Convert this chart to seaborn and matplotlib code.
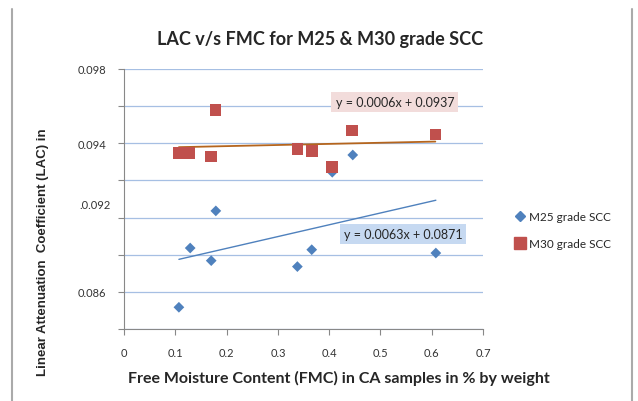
import numpy as np
import pandas as pd
import seaborn as sns
import matplotlib.pyplot as plt
from matplotlib.lines import Line2D

# Datos
fmc_m25 = [0.107, 0.129, 0.170, 0.179, 0.338, 0.366, 0.406, 0.446, 0.608]
lac_m25 = [0.08517, 0.08836, 0.08768, 0.09036, 0.08736, 0.08827, 0.09244, 0.09337, 0.08809]
fmc_m30 = [0.107, 0.127, 0.169, 0.178, 0.338, 0.366, 0.406, 0.445, 0.607]
lac_m30 = [0.09348, 0.09348, 0.09328, 0.09580, 0.09369, 0.09359, 0.09271, 0.09468, 0.09448]
series = ["M25 grade SCC", "M30 grade SCC"]
eq_labels = ["y = 0.0063x + 0.0871", "y = 0.0006x + 0.0937"]
x_ticks = [0, 0.1, 0.2, 0.3, 0.4, 0.5, 0.6, 0.7]
x_ticklabels = ["0", "0.1", "0.2", "0.3", "0.4", "0.5", "0.6", "0.7"]
y_ticks = [0.084, 0.086, 0.088, 0.090, 0.092, 0.094, 0.096, 0.098]
y_ticklabels = ["", "0.086", "", "", "", "0.094", "", "0.098"]

datos = pd.DataFrame({
    "FMC": fmc_m25 + fmc_m30,
    "LAC": lac_m25 + lac_m30,
    "Serie": [series[0]] * len(fmc_m25) + [series[1]] * len(fmc_m30),
})

sns.set_style("white")
plt.rcParams['font.family'] = ['Lato', 'DejaVu Sans']

azul = "#4F81BD"
rojo = "#C0504D"

fig = plt.figure(figsize=(6.38, 4.02), dpi=100)
ax = fig.add_axes([0.1944, 0.1791, 0.5627, 0.6468])

# lineas de tendencia
sns.regplot(x="FMC", y="LAC", data=datos[datos.Serie == series[0]], ci=None,
            scatter=False, truncate=True, line_kws={"color": azul, "lw": 1.0}, ax=ax)
sns.regplot(x="FMC", y="LAC", data=datos[datos.Serie == series[1]], ci=None,
            scatter=False, truncate=True, line_kws={"color": "#B5651D", "lw": 1.3}, ax=ax)

sns.scatterplot(x="FMC", y="LAC", data=datos, hue="Serie", style="Serie",
                palette=[azul, rojo], markers=["D", "s"], size="Serie",
                sizes=[30, 70], edgecolor="none", legend=False, ax=ax, zorder=3)

ax.set_xlim(0, 0.7)
ax.set_ylim(0.084, 0.098)
ax.set_xticks(x_ticks)
ax.set_xticklabels(x_ticklabels, fontsize=8, color="#333333")
ax.set_yticks(y_ticks)
ax.set_yticklabels(y_ticklabels, fontsize=8, color="#333333")
ax.text(-0.027, 0.0907, ".0.092", fontsize=8, color="#333333", ha="right", va="center")
ax.yaxis.grid(True, color="#A6BFE3", lw=0.9)
for s in ["top", "right"]:
    ax.spines[s].set_visible(False)
for s in ["left", "bottom"]:
    ax.spines[s].set_color("#888888")
ax.tick_params(axis="both", length=4, color="#888888", direction="out",
               left=True, bottom=True, pad=9)
ax.tick_params(axis="y", pad=9)

ax.set_xlabel("")
ax.set_ylabel("")
fig.text(339 / 638, 1 - 378 / 402,
         "Free Moisture Content (FMC) in CA samples in % by weight",
         fontsize=11.5, fontweight="bold", ha="center", va="center")
ax.text(-0.226, 0.30, "Linear Attenuation  Coefficient (LAC) in",
        transform=ax.transAxes, rotation=90, fontsize=9.5, fontweight="bold",
        family=["Liberation Sans", "DejaVu Sans"], ha="center", va="center")
fig.text(320 / 638, 1 - 40 / 402, "LAC v/s FMC for M25 & M30 grade SCC",
         fontsize=13, fontweight="bold", ha="center", va="center")

# ecuaciones
ax.text(0.528, 0.09622, eq_labels[1], fontsize=9, ha="center", va="center",
        bbox=dict(facecolor="#F2DCDB", edgecolor="none", pad=3))
ax.text(0.544, 0.08912, eq_labels[0], fontsize=9, ha="center", va="center",
        bbox=dict(facecolor="#C6D9F1", edgecolor="none", pad=3))

handles = [Line2D([], [], marker="D", color=azul, ls="none", markersize=5),
           Line2D([], [], marker="s", color=rojo, ls="none", markersize=8)]
fig.legend(handles, series, loc="center left", bbox_to_anchor=(0.785, 0.425),
           frameon=False, fontsize=8.5, handletextpad=0.0, labelspacing=1.4,
           handlelength=1.5)

# marco de la figura
fig.add_artist(Line2D([0.019, 0.019], [0, 0.975], color="#AAAAAA", lw=1.5))
fig.add_artist(Line2D([0.990, 0.990], [0, 0.975], color="#AAAAAA", lw=1.5))

fig.savefig("out.png", dpi=100)
